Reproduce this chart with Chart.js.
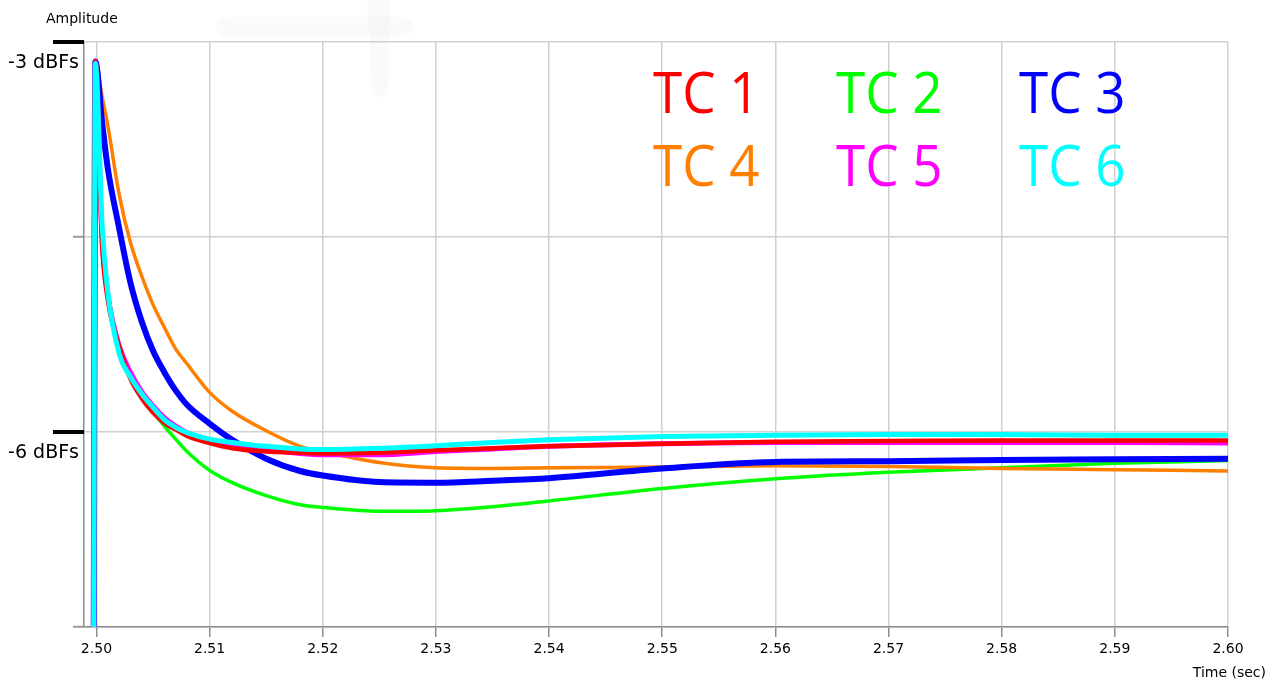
<!DOCTYPE html>
<html>
<head>
<meta charset="utf-8">
<title>Amplitude vs time</title>
<script src="https://cdn.jsdelivr.net/npm/chart.js@4.4.1/dist/chart.umd.min.js"></script>
<style>
  html, body { margin: 0; padding: 0; background: #ffffff; }
  #wrap { width: 1276px; height: 684px; position: relative; }
</style>
</head>
<body>
<div id="wrap"><canvas id="chart" width="1276" height="684"></canvas></div>
<script>
// ---- data (time in seconds, level in dBFs) ----
const TIME = [2.49975, 2.4999, 2.5005, 2.501, 2.502, 2.503, 2.504, 2.505, 2.506, 2.507, 2.508,
              2.510, 2.512, 2.515, 2.518, 2.520, 2.525, 2.530, 2.535, 2.540, 2.550,
              2.560, 2.570, 2.580, 2.590, 2.600];

const TC1 = [-8, -3.15, -4.56, -4.98, -5.34, -5.59, -5.74, -5.85, -5.93, -5.98, -6.03,
             -6.085, -6.125, -6.15, -6.16, -6.165, -6.16, -6.14, -6.125, -6.11, -6.09,
             -6.075, -6.07, -6.065, -6.065, -6.065];
const TC2 = [-8, -3.16, -4.52, -4.98, -5.33, -5.565, -5.72, -5.84, -5.955, -6.055, -6.15,
             -6.295, -6.39, -6.49, -6.56, -6.58, -6.61, -6.605, -6.575, -6.53, -6.435,
             -6.36, -6.31, -6.275, -6.24, -6.22];
const TC3 = [-8, -3.15, -3.62, -3.97, -4.43, -4.85, -5.15, -5.375, -5.54, -5.68, -5.79,
             -5.935, -6.06, -6.205, -6.30, -6.335, -6.385, -6.39, -6.375, -6.355, -6.28,
             -6.23, -6.225, -6.215, -6.21, -6.205];
const TC4 = [-8, -3.14, -3.42, -3.64, -4.17, -4.54, -4.80, -5.02, -5.195, -5.36, -5.475,
             -5.695, -5.84, -5.99, -6.11, -6.15, -6.235, -6.275, -6.28, -6.275, -6.27,
             -6.26, -6.265, -6.28, -6.29, -6.30];
const TC5 = [-8, -3.15, -4.52, -4.94, -5.335, -5.54, -5.69, -5.80, -5.89, -5.955, -6.005,
             -6.06, -6.095, -6.135, -6.165, -6.175, -6.175, -6.15, -6.13, -6.11, -6.09,
             -6.08, -6.08, -6.08, -6.08, -6.085];
const TC6 = [-8, -3.165, -4.405, -4.92, -5.395, -5.575, -5.705, -5.81, -5.905, -5.965, -6.005,
             -6.055, -6.08, -6.11, -6.13, -6.135, -6.125, -6.105, -6.08, -6.06, -6.035,
             -6.025, -6.02, -6.02, -6.025, -6.025];

const SERIES_LABELS = ['TC 1', 'TC 2', 'TC 3', 'TC 4', 'TC 5', 'TC 6'];
const X_TICKS = [2.50, 2.51, 2.52, 2.53, 2.54, 2.55, 2.56, 2.57, 2.58, 2.59, 2.60];
const Y_TICKS = [-7.5, -6, -4.5, -3];
const Y_TICK_TEXT = { '-3': '-3 dBFs', '-6': '-6 dBFs' };
const X_TITLE = 'Time (sec)';
const Y_TITLE = 'Amplitude';

// ---- styling ----
const SERIES_VALUES = [TC1, TC2, TC3, TC4, TC5, TC6];
const COLORS = ['#ff0000', '#00ff00', '#0000ff', '#ff8000', '#ff00ff', '#00ffff'];
const WIDTHS = [4.5, 3.5, 6, 3.5, 5, 5];
const STACK_ORDER = [1, 5, 3, 4, 2, 0]; // lower = drawn on top

Chart.defaults.font.family = '"DejaVu Sans", sans-serif';
Chart.defaults.color = '#000000';

const datasets = SERIES_VALUES.map((vals, i) => ({
  label: SERIES_LABELS[i],
  data: TIME.map((t, k) => ({ x: t, y: vals[k] })),
  borderColor: COLORS[i],
  backgroundColor: COLORS[i],
  borderWidth: WIDTHS[i],
  pointRadius: 0,
  cubicInterpolationMode: 'monotone',
  borderCapStyle: 'butt',
  borderJoinStyle: 'round',
  order: STACK_ORDER[i]
}));

// faint cross-shaped mark behind the plot
const backdropMark = {
  id: 'backdropMark',
  beforeDraw(chart) {
    const ctx = chart.ctx;
    ctx.save();
    ctx.fillStyle = 'rgba(0,0,0,0.018)';
    ctx.beginPath();
    ctx.roundRect(216, 17, 197, 19, 9.5);
    ctx.fill();
    ctx.beginPath();
    ctx.moveTo(367, 0);
    ctx.lineTo(390, 0);
    ctx.lineTo(388, 88);
    ctx.arc(380, 89, 8, 0, Math.PI, false);
    ctx.closePath();
    ctx.fill();
    ctx.restore();
  }
};

// axis captions, heavy level marks and the series key
const annotations = {
  id: 'annotations',
  afterDraw(chart) {
    const ctx = chart.ctx;
    const ys = chart.scales.y;
    const area = chart.chartArea;
    ctx.save();
    // heavy marks at the labelled levels
    ctx.fillStyle = '#000000';
    Object.keys(Y_TICK_TEXT).forEach(k => {
      const py = ys.getPixelForValue(Number(k));
      ctx.fillRect(area.left - 31, Math.round(py) - 2, 31, 4);
    });
    // axis captions
    ctx.font = '14px "DejaVu Sans"';
    ctx.textBaseline = 'alphabetic';
    ctx.textAlign = 'left';
    ctx.fillText(Y_TITLE, 46, 23);
    ctx.textAlign = 'right';
    ctx.fillText(X_TITLE, 1266, 677);
    // series key in three columns, two rows
    ctx.font = '57px "Open Sans"';
    ctx.textAlign = 'left';
    const colX = [653, 836, 1019];
    const rowY = [113, 186];
    chart.data.datasets.forEach((ds, i) => {
      ctx.save();
      ctx.translate(colX[i % 3], rowY[Math.floor(i / 3)]);
      ctx.scale(0.93, 1);
      ctx.fillStyle = ds.borderColor;
      ctx.fillText(ds.label, 0, 0);
      ctx.restore();
    });
    ctx.restore();
  }
};

new Chart(document.getElementById('chart'), {
  type: 'line',
  data: { datasets },
  options: {
    responsive: false,
    animation: false,
    events: [],
    layout: { padding: { top: 42, right: 48, bottom: 0, left: 0 } },
    plugins: { legend: { display: false }, tooltip: { enabled: false }, title: { display: false } },
    scales: {
      x: {
        type: 'linear',
        min: 2.4989,
        max: 2.60,
        afterBuildTicks(scale) { scale.ticks = X_TICKS.map(v => ({ value: v })); },
        afterFit(scale) { scale.height = 57; },
        grid: { color: '#d0d0d0', lineWidth: 1.5, tickLength: 10, tickColor: '#8c8c8c', tickWidth: 1.5 },
        border: { display: true, color: '#8c8c8c', width: 1.5 },
        ticks: {
          padding: 4,
          maxRotation: 0,
          autoSkip: false,
          font: { size: 14 },
          color: '#000000',
          callback: v => Number(v).toFixed(2)
        }
      },
      y: {
        type: 'linear',
        min: -7.5,
        max: -3,
        afterBuildTicks(scale) { scale.ticks = Y_TICKS.map(v => ({ value: v })); },
        afterFit(scale) { scale.width = 84; },
        grid: { color: '#d0d0d0', lineWidth: 1.5, tickLength: 11, tickColor: '#999999', tickWidth: 2 },
        border: { display: true, color: '#8c8c8c', width: 1.5 },
        ticks: {
          padding: -6,
          labelOffset: 21,
          autoSkip: false,
          font: { size: 19 },
          color: '#000000',
          callback: v => Y_TICK_TEXT[String(v)] || ''
        }
      }
    }
  },
  plugins: [backdropMark, annotations]
});
</script>
</body>
</html>
